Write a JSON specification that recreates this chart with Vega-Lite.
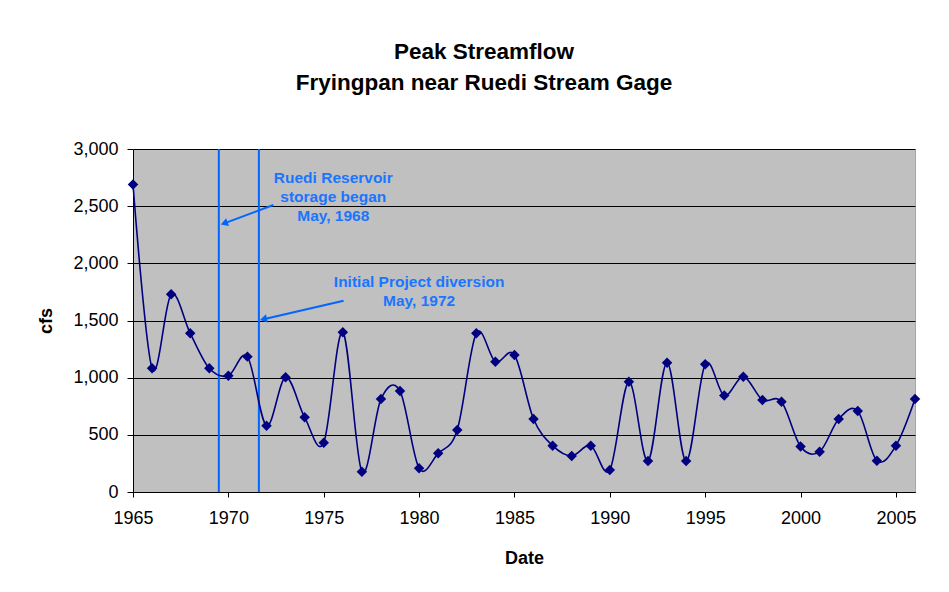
{
  "$schema": "https://vega.github.io/schema/vega-lite/v6.json",
  "width": 782,
  "height": 343,
  "autosize": "none",
  "padding": {"left": 133, "top": 149, "right": 34, "bottom": 100},
  "background": "white",
  "config": {
    "font": "Liberation Sans",
    "view": {"fill": "#C0C0C0", "stroke": "#A6A6A6", "strokeWidth": 1},
    "axis": {"labelFont": "Liberation Sans", "titleFont": "Liberation Sans", "labelColor": "black", "titleColor": "black", "domainColor": "black", "tickColor": "black"}
  },
  "title": {
    "text": ["Peak Streamflow", "Fryingpan near Ruedi Stream Gage"],
    "font": "Liberation Sans",
    "fontSize": 22.5,
    "fontWeight": "bold",
    "lineHeight": 31,
    "anchor": "middle",
    "frame": "group",
    "dx": -40,
    "offset": 46,
    "color": "black"
  },
  "datasets": {
    "flow": [
      {"year": 1965, "cfs": 2690}, {"year": 1966, "cfs": 1082}, {"year": 1967, "cfs": 1729},
      {"year": 1968, "cfs": 1388}, {"year": 1969, "cfs": 1082}, {"year": 1970, "cfs": 1017},
      {"year": 1971, "cfs": 1184}, {"year": 1972, "cfs": 580}, {"year": 1973, "cfs": 1003},
      {"year": 1974, "cfs": 653}, {"year": 1975, "cfs": 431}, {"year": 1976, "cfs": 1398},
      {"year": 1977, "cfs": 178}, {"year": 1978, "cfs": 813}, {"year": 1979, "cfs": 883},
      {"year": 1980, "cfs": 207}, {"year": 1981, "cfs": 338}, {"year": 1982, "cfs": 542},
      {"year": 1983, "cfs": 1388}, {"year": 1984, "cfs": 1140}, {"year": 1985, "cfs": 1198},
      {"year": 1986, "cfs": 638}, {"year": 1987, "cfs": 405}, {"year": 1988, "cfs": 315},
      {"year": 1989, "cfs": 405}, {"year": 1990, "cfs": 192}, {"year": 1991, "cfs": 965},
      {"year": 1992, "cfs": 271}, {"year": 1993, "cfs": 1131}, {"year": 1994, "cfs": 271},
      {"year": 1995, "cfs": 1117}, {"year": 1996, "cfs": 843}, {"year": 1997, "cfs": 1009},
      {"year": 1998, "cfs": 805}, {"year": 1999, "cfs": 790}, {"year": 2000, "cfs": 397},
      {"year": 2001, "cfs": 353}, {"year": 2002, "cfs": 638}, {"year": 2003, "cfs": 708},
      {"year": 2004, "cfs": 274}, {"year": 2005, "cfs": 405}, {"year": 2006, "cfs": 813}
    ],
    "vlines": [{"year": 1969.5}, {"year": 1971.6}],
    "arrows": [
      {"x": 1972.36, "y": 2510, "x2": 1969.78, "y2": 2350, "angle": -20},
      {"x": 1976.04, "y": 1673, "x2": 1971.84, "y2": 1511, "angle": -14}
    ],
    "notes": [
      {"x": 1975.5, "y": 2746, "label": ["Ruedi Reservoir", "storage began", "May, 1968"]},
      {"x": 1980.0, "y": 1837, "label": ["Initial Project diversion", "May, 1972"]}
    ]
  },
  "layer": [
    {
      "data": {"name": "vlines"},
      "mark": {"type": "rule", "color": "#0066FF", "strokeWidth": 2},
      "encoding": {
        "x": {"field": "year", "type": "quantitative", "scale": {"domain": [1965, 2006], "nice": false, "zero": false}}
      }
    },
    {
      "data": {"name": "flow"},
      "mark": {"type": "line", "interpolate": "cardinal", "color": "#000080", "strokeWidth": 1.6},
      "encoding": {
        "x": {
          "field": "year", "type": "quantitative",
          "scale": {"domain": [1965, 2006], "nice": false, "zero": false},
          "axis": {"values": [1965, 1970, 1975, 1980, 1985, 1990, 1995, 2000, 2005], "format": "d", "grid": false, "labelFlush": false, "tickSize": 5, "labelPadding": 12, "labelFontSize": 18, "title": "Date", "titleFontSize": 18, "titleFontWeight": "bold", "titlePadding": 22}
        },
        "y": {
          "field": "cfs", "type": "quantitative",
          "scale": {"domain": [0, 3000], "nice": false},
          "axis": {"values": [0, 500, 1000, 1500, 2000, 2500, 3000], "format": ",d", "grid": true, "gridColor": "black", "gridWidth": 1, "tickSize": 6, "labelPadding": 9, "labelFontSize": 18, "title": "cfs", "titleFontSize": 18, "titleFontWeight": "bold", "titlePadding": 17}
        }
      }
    },
    {
      "data": {"name": "flow"},
      "mark": {"type": "point", "shape": "diamond", "filled": true, "color": "#000080", "size": 110, "opacity": 1},
      "encoding": {
        "x": {"field": "year", "type": "quantitative"},
        "y": {"field": "cfs", "type": "quantitative"}
      }
    },
    {
      "data": {"name": "arrows"},
      "mark": {"type": "rule", "color": "#0066FF", "strokeWidth": 2},
      "encoding": {
        "x": {"field": "x", "type": "quantitative"},
        "y": {"field": "y", "type": "quantitative"},
        "x2": {"field": "x2"},
        "y2": {"field": "y2"}
      }
    },
    {
      "data": {"name": "arrows"},
      "mark": {"type": "point", "shape": "triangle-left", "filled": true, "color": "#0066FF", "size": 70, "opacity": 1},
      "encoding": {
        "x": {"field": "x2", "type": "quantitative"},
        "y": {"field": "y2", "type": "quantitative"},
        "angle": {"field": "angle", "type": "quantitative", "scale": null}
      }
    },
    {
      "data": {"name": "notes"},
      "mark": {"type": "text", "color": "#1A75FF", "fontSize": 15.5, "fontWeight": "bold", "lineHeight": 19, "align": "center", "baseline": "middle", "font": "Liberation Sans"},
      "encoding": {
        "x": {"field": "x", "type": "quantitative"},
        "y": {"field": "y", "type": "quantitative"},
        "text": {"field": "label"}
      }
    }
  ]
}
